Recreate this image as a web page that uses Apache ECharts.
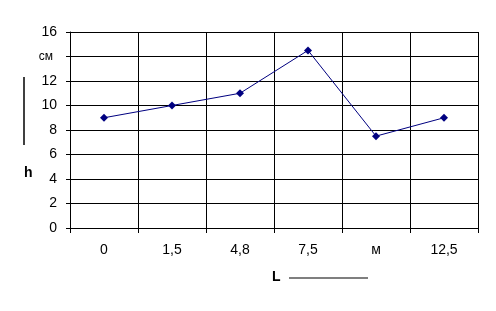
<!DOCTYPE html>
<html><head><meta charset="utf-8">
<script src="https://cdn.jsdelivr.net/npm/echarts@6/dist/echarts.min.js"></script>
<style>html,body{margin:0;padding:0;background:#fff}#c{width:496px;height:311px}</style>
</head><body><div id="c"></div>
<script>
const categories = ['0', '1,5', '4,8', '7,5', 'м', '12,5'];
const values = [9, 10, 11, 14.5, 7.5, 9];
const yTicks = {min: 0, max: 16, interval: 2};
const yTickLabels = ['0', '2', '4', '6', '8', '10', '12', 'см', '16'];

const chart = echarts.init(document.getElementById('c'), null, {renderer: 'canvas'});
const font = 'Liberation Sans, Arial, sans-serif';
chart.setOption({
  animation: false,
  backgroundColor: '#fff',
  grid: {left: 70, right: 18, top: 32, bottom: 83},
  xAxis: {
    type: 'category', data: categories, boundaryGap: true,
    axisLine: {lineStyle: {color: '#000', width: 1}},
    axisTick: {show: true, length: 5, lineStyle: {color: '#000'}},
    axisLabel: {color: '#000', fontSize: 14, fontFamily: font, margin: 15},
    splitLine: {show: true, lineStyle: {color: '#000', width: 1}}
  },
  yAxis: {
    type: 'value', min: yTicks.min, max: yTicks.max, interval: yTicks.interval,
    axisLine: {show: true, lineStyle: {color: '#000', width: 1}},
    axisTick: {show: true, length: 4, lineStyle: {color: '#000'}},
    axisLabel: {
      color: '#000', fontSize: 14, fontFamily: font, margin: 13,
      formatter: function (v) {
        const t = yTickLabels[Math.round(v / yTicks.interval)];
        return t === 'см' ? '{u|' + t + '}' : t;
      },
      rich: {u: {fontSize: 12, fontFamily: font, color: '#000', padding: [0, 4, 0, 0]}}
    },
    splitLine: {show: true, lineStyle: {color: '#000', width: 1}}
  },
  series: [{
    type: 'line', data: values,
    symbol: 'diamond', symbolSize: 8,
    lineStyle: {color: '#000080', width: 1},
    itemStyle: {color: '#000080'}
  }],
  graphic: [
    {type: 'line', shape: {x1: 24, y1: 77, x2: 24, y2: 145}, style: {stroke: '#000', lineWidth: 1.5}},
    {type: 'text', left: 24, top: 166, style: {text: 'h', fill: '#000', font: 'bold 14px ' + font}},
    {type: 'text', left: 272, top: 270, style: {text: 'L', fill: '#000', font: 'bold 14px ' + font}},
    {type: 'line', shape: {x1: 289, y1: 278, x2: 368, y2: 278}, style: {stroke: '#000', lineWidth: 1.2}}
  ]
});
</script></body></html>
